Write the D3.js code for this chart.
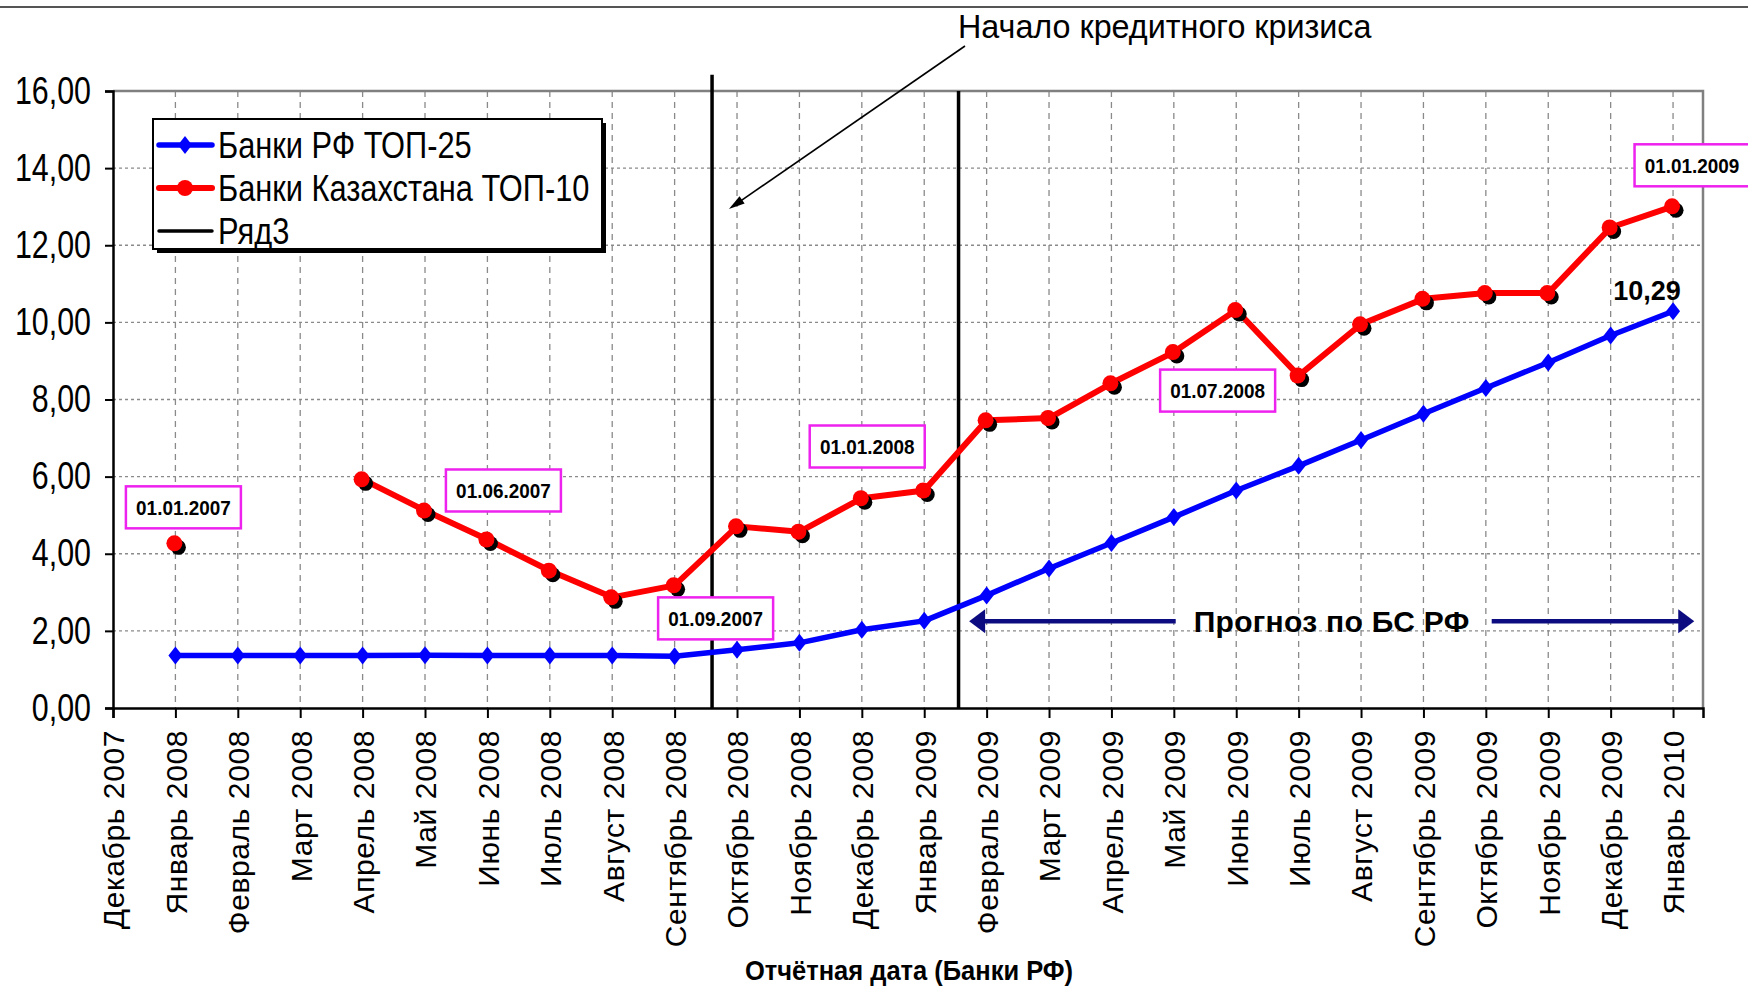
<!DOCTYPE html>
<html>
<head>
<meta charset="utf-8">
<script src="https://cdn.jsdelivr.net/npm/d3@7"></script>
<style>
  html, body { margin: 0; padding: 0; background: #fff; }
  svg { display: block; }
</style>
</head>
<body>
<div id="chart"></div>
<script>
// categories along the x axis (report dates, Russian banks)
var categories = ["Декабрь 2007", "Январь 2008", "Февраль 2008", "Март 2008", "Апрель 2008", "Май 2008",
  "Июнь 2008", "Июль 2008", "Август 2008", "Сентябрь 2008", "Октябрь 2008", "Ноябрь 2008", "Декабрь 2008",
  "Январь 2009", "Февраль 2009", "Март 2009", "Апрель 2009", "Май 2009", "Июнь 2009", "Июль 2009",
  "Август 2009", "Сентябрь 2009", "Октябрь 2009", "Ноябрь 2009", "Декабрь 2009", "Январь 2010"];

var seriesNames = ["Банки РФ ТОП-25", "Банки Казахстана ТОП-10", "Ряд3"];

// Банки РФ ТОП-25
var rfTop25 = [null, 1.36, 1.36, 1.36, 1.36, 1.37, 1.36, 1.36, 1.36, 1.34, 1.51, 1.69, 2.03,
  2.26, 2.92, 3.62, 4.28, 4.95, 5.64, 6.28, 6.95, 7.63, 8.30, 8.96, 9.66, 10.29];

// Банки Казахстана ТОП-10
var kzTop10 = [null, 4.27, null, null, 5.93, 5.12, 4.37, 3.56, 2.87, 3.18, 4.71, 4.57, 5.44,
  5.64, 7.46, 7.52, 8.42, 9.23, 10.32, 8.62, 9.95, 10.61, 10.76, 10.76, 12.46, 13.01];

// Ряд3: two vertical markers (category position, top value)
var row3Pos = [9.6, 13.55];
var row3Top = [16.42, 16];

var yTicks = [0, 2, 4, 6, 8, 10, 12, 14, 16];

// date labels for the Kazakh series
var kzLabelIdx = [1, 6, 9, 13, 19, 25];
var kzLabelText = ["01.01.2007", "01.06.2007", "01.09.2007", "01.01.2008", "01.07.2008", "01.01.2009"];

var forecastText = "Прогноз по БС РФ";
var forecastFrom = 13.72, forecastTo = 25.34, forecastLevel = 2.25;
var crisisText = "Начало кредитного кризиса";
var xTitle = "Отчётная дата (Банки РФ)";

// ---- layout ----
var W = 1748, H = 988;
var pLeft = 113, pRight = 1703, pTop = 91, pBottom = 708;
var SANS = "'Liberation Sans', Arial, sans-serif";

// label box offsets from their points (pixels)
var kzLabelDx = [8, 16, 41, -57, -81, 19];
var kzLabelDy = [-36, -49, 33, -44, 15, -41];

// squeeze text horizontally to mimic a narrow font
function narrow(sel, k) {
    sel.each(function() {
        var len = this.getComputedTextLength();
        d3.select(this).attr("textLength", len * k).attr("lengthAdjust", "spacingAndGlyphs");
    });
}

var svg = d3.select("#chart").append("svg")
    .attr("width", W)
    .attr("height", H)
    .style("background", "#fff");

var x = d3.scaleLinear().domain([0, 25.48]).range([pLeft, pRight]);
var y = d3.scaleLinear().domain([0, 16]).range([pBottom, pTop]);

// top rule
svg.append("line")
    .attr("x1", 0).attr("x2", W).attr("y1", 7).attr("y2", 7)
    .style("stroke", "#555").style("stroke-width", 2);

// grid
svg.append("g").selectAll("line")
    .data(yTicks.filter(function(d) { return d > 0; }))
    .enter().append("line")
        .attr("x1", pLeft).attr("x2", pRight)
        .attr("y1", function(d) { return y(d); })
        .attr("y2", function(d) { return y(d); })
        .style("stroke", "#8a8a8a").style("stroke-width", 1.3)
        .style("stroke-dasharray", "3,3");

svg.append("g").selectAll("line")
    .data(d3.range(1, categories.length))
    .enter().append("line")
        .attr("x1", function(d) { return x(d); })
        .attr("x2", function(d) { return x(d); })
        .attr("y1", pTop).attr("y2", pBottom)
        .style("stroke", "#8a8a8a").style("stroke-width", 1.3)
        .style("stroke-dasharray", "6,5");

// plot border (top/right grey)
svg.append("path")
    .attr("d", "M" + pLeft + "," + pTop + "H" + pRight + "V" + pBottom)
    .style("fill", "none").style("stroke", "#808080").style("stroke-width", 2.5);

// axes
var yAxis = svg.append("g")
    .attr("transform", "translate(" + pLeft + ",0)")
    .call(d3.axisLeft(y).tickValues(yTicks).tickSize(8).tickPadding(14)
        .tickFormat(function(d) { return d3.format(".2f")(d).replace(".", ","); }));
yAxis.select(".domain").style("stroke", "#000").style("stroke-width", 2.5);
yAxis.selectAll(".tick line").style("stroke", "#000").style("stroke-width", 2);
yAxis.selectAll("text")
    .style("font-family", SANS).style("font-size", "38px").style("fill", "#000")
    .call(narrow, 0.8);

var xAxis = svg.append("g")
    .attr("transform", "translate(0," + pBottom + ")")
    .call(d3.axisBottom(x).tickValues(d3.range(categories.length)).tickSize(10)
        .tickFormat(function(i) { return categories[i]; }));
xAxis.select(".domain").style("stroke", "#000").style("stroke-width", 2.5);
xAxis.selectAll(".tick line").style("stroke", "#000").style("stroke-width", 2);
xAxis.selectAll("text")
    .attr("transform", "rotate(-90)")
    .attr("x", -22).attr("y", 0).attr("dy", "0.36em")
    .style("text-anchor", "end")
    .style("font-family", SANS).style("font-size", "30px").style("letter-spacing", "0.6px")
    .style("fill", "#000");

// Ряд3 vertical lines
svg.append("g").selectAll("line")
    .data(row3Pos)
    .enter().append("line")
        .attr("x1", function(d) { return x(d); })
        .attr("x2", function(d) { return x(d); })
        .attr("y1", function(d, i) { return y(row3Top[i]); })
        .attr("y2", y(0))
        .style("stroke", "#000").style("stroke-width", 3.5);

// series lines
var line = d3.line()
    .defined(function(d) { return d != null; })
    .x(function(d, i) { return x(i); })
    .y(function(d) { return y(d); });

svg.append("path")
    .datum(rfTop25)
    .attr("d", line)
    .style("fill", "none").style("stroke", "#0000ff").style("stroke-width", 5.5)
    .style("stroke-linejoin", "round");

var diamond = "M0,-9L7,0L0,9L-7,0Z";
svg.append("g").selectAll("path")
    .data(rfTop25.map(function(d, i) { return {v: d, i: i}; }).filter(function(d) { return d.v != null; }))
    .enter().append("path")
        .attr("d", diamond)
        .attr("transform", function(d) { return "translate(" + x(d.i) + "," + y(d.v) + ")"; })
        .style("fill", "#0000ff");

svg.append("path")
    .datum(kzTop10)
    .attr("d", line)
    .style("fill", "none").style("stroke", "#ff0000").style("stroke-width", 6)
    .style("stroke-linejoin", "round");

var kzPts = kzTop10.map(function(d, i) { return {v: d, i: i}; }).filter(function(d) { return d.v != null; });
svg.append("g").selectAll("circle")
    .data(kzPts)
    .enter().append("circle")
        .attr("cx", function(d) { return x(d.i) + 3; })
        .attr("cy", function(d) { return y(d.v) + 4; })
        .attr("r", 7.5)
        .style("fill", "#000");
svg.append("g").selectAll("circle")
    .data(kzPts)
    .enter().append("circle")
        .attr("cx", function(d) { return x(d.i) - 1; })
        .attr("cy", function(d) { return y(d.v); })
        .attr("r", 8)
        .style("fill", "#ff0000");

// date label boxes
var boxW = 115, boxH = 42;
var labels = svg.append("g").selectAll("g")
    .data(kzLabelIdx)
    .enter().append("g")
        .attr("transform", function(d, k) {
            return "translate(" + (x(d) + kzLabelDx[k]) + "," + (y(kzTop10[d]) + kzLabelDy[k]) + ")";
        });
labels.append("rect")
    .attr("x", -boxW / 2).attr("y", -boxH / 2)
    .attr("width", boxW).attr("height", boxH)
    .style("fill", "#fff").style("stroke", "#ee22ee").style("stroke-width", 2.5);
labels.append("text")
    .attr("dy", "0.36em")
    .style("text-anchor", "middle")
    .style("font-family", SANS).style("font-size", "21px").style("font-weight", "bold")
    .text(function(d, k) { return kzLabelText[k]; })
    .call(narrow, 0.9);

// last value label
var last = rfTop25.length - 1;
svg.append("text")
    .attr("x", x(last) - 26).attr("y", y(rfTop25[last]) - 11)
    .style("text-anchor", "middle")
    .style("font-family", SANS).style("font-size", "27px").style("font-weight", "bold")
    .text(d3.format(".2f")(rfTop25[last]).replace(".", ","));

// forecast arrows
var navy = "#0c0c80";
var fy = y(forecastLevel);
var fMid = (x(forecastFrom) + x(forecastTo)) / 2;
var fText = svg.append("text")
    .attr("x", fMid).attr("y", fy).attr("dy", "0.36em")
    .style("text-anchor", "middle")
    .style("font-family", SANS).style("font-size", "30px").style("font-weight", "bold")
    .style("letter-spacing", "0.3px")
    .text(forecastText);
var tw = fText.node().getComputedTextLength();
svg.append("line")
    .attr("x1", x(forecastFrom) + 10).attr("x2", fMid - tw / 2 - 18)
    .attr("y1", fy).attr("y2", fy)
    .style("stroke", navy).style("stroke-width", 4.5);
svg.append("line")
    .attr("x1", fMid + tw / 2 + 22).attr("x2", x(forecastTo) - 10)
    .attr("y1", fy).attr("y2", fy)
    .style("stroke", navy).style("stroke-width", 4.5);
svg.append("path")
    .attr("d", "M" + x(forecastFrom) + "," + fy + "l16,-12v24z")
    .style("fill", navy);
svg.append("path")
    .attr("d", "M" + x(forecastTo) + "," + fy + "l-16,-12v24z")
    .style("fill", navy);

// crisis annotation
var tipX = x(9.87), tipY = y(12.94);
var tailX = 965, tailY = 46;
var ang = Math.atan2(tipY - tailY, tipX - tailX);
svg.append("line")
    .attr("x1", tailX).attr("y1", tailY)
    .attr("x2", tipX - 10 * Math.cos(ang)).attr("y2", tipY - 10 * Math.sin(ang))
    .style("stroke", "#000").style("stroke-width", 1.6);
svg.append("path")
    .attr("d", "M0,0L-16,-4.5L-16,4.5Z")
    .attr("transform", "translate(" + tipX + "," + tipY + ") rotate(" + (ang * 180 / Math.PI) + ")")
    .style("fill", "#000");
svg.append("text")
    .attr("x", 958).attr("y", 38)
    .style("font-family", SANS).style("font-size", "34px")
    .text(crisisText)
    .call(narrow, 0.95);

// x axis title
svg.append("text")
    .attr("x", 909).attr("y", 980)
    .style("text-anchor", "middle")
    .style("font-family", SANS).style("font-size", "28px").style("font-weight", "bold")
    .text(xTitle)
    .call(narrow, 0.91);

// legend
var lg = svg.append("g").attr("transform", "translate(153,119)");
lg.append("rect")
    .attr("x", 4).attr("y", 4).attr("width", 449).attr("height", 130)
    .style("fill", "#000");
lg.append("rect")
    .attr("width", 449).attr("height", 130)
    .style("fill", "#fff").style("stroke", "#000").style("stroke-width", 2);
var legendColors = ["#0000ff", "#ff0000", "#000"];
var legendWidths = [5.5, 6, 3.5];
var items = lg.selectAll("g.item")
    .data(seriesNames)
    .enter().append("g")
        .attr("class", "item")
        .attr("transform", function(d, i) { return "translate(0," + (26 + i * 43) + ")"; });
items.append("line")
    .attr("x1", 6).attr("x2", 59)
    .style("stroke", function(d, i) { return legendColors[i]; })
    .style("stroke-width", function(d, i) { return legendWidths[i]; })
    .style("stroke-linecap", "round");
items.filter(function(d, i) { return i === 0; }).append("path")
    .attr("d", diamond).attr("transform", "translate(32,0)").style("fill", "#0000ff");
items.filter(function(d, i) { return i === 1; }).append("circle")
    .attr("cx", 32).attr("r", 8).style("fill", "#ff0000");
items.append("text")
    .attr("x", 65).attr("dy", "0.36em")
    .style("font-family", SANS).style("font-size", "36px")
    .text(function(d) { return d; })
    .call(narrow, 0.855);
</script>
</body>
</html>
